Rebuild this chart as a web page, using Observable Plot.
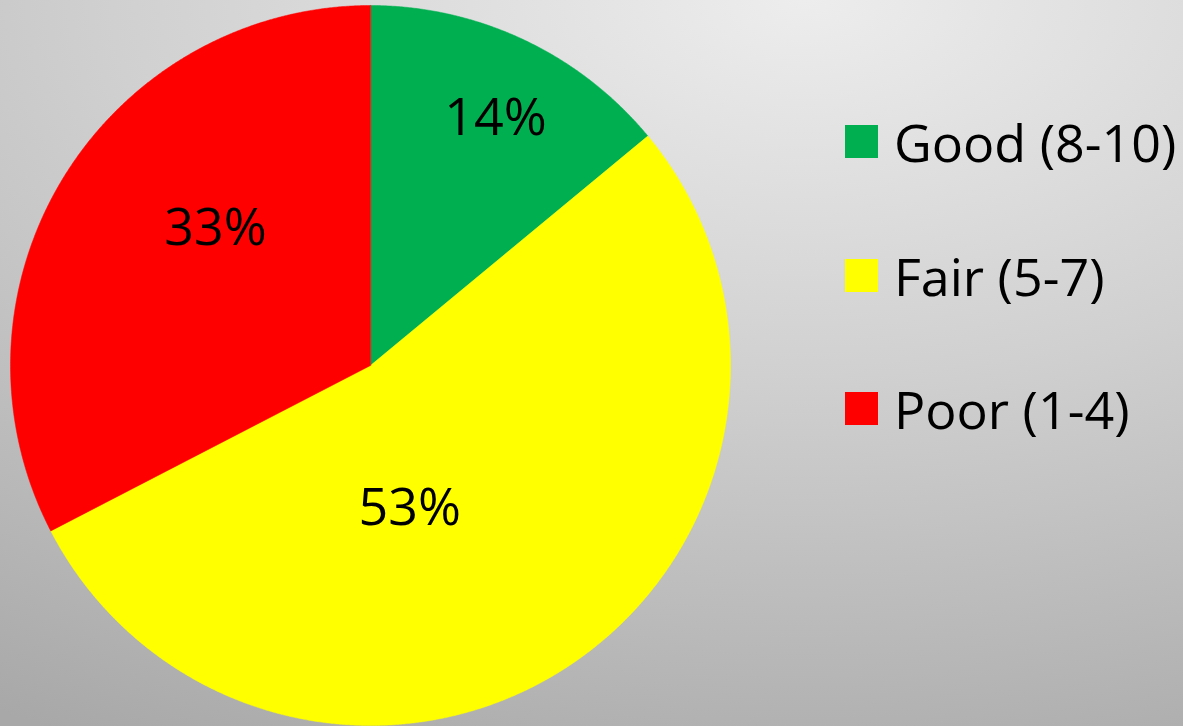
<!DOCTYPE html>
<html>
<head>
<meta charset="utf-8">
<script src="https://cdn.jsdelivr.net/npm/d3@7"></script>
<script src="https://cdn.jsdelivr.net/npm/@observablehq/plot@0.6"></script>
<style>
  html, body { margin: 0; padding: 0; overflow: hidden; }
  body { width: 1183px; height: 726px;
    background: radial-gradient(ellipse 130% 115% at 68% 0%, #ededed 0%, #d0d0d0 45%, #a8a8a8 100%); }
  #wrap { position: relative; width: 1183px; height: 726px; }
  #legend { position: absolute; left: 845px; top: 75px; }
  #legend .lg-swatches { display: flex; flex-direction: column; align-items: flex-start; }
  #legend .lg-swatch { height: 133.5px; margin: 0 !important; display: inline-flex; align-items: center; }
  #legend .lg-swatch > svg { margin-right: 16px !important; }
</style>
</head>
<body>
<div id="wrap"><div id="chart"></div><div id="legend"></div></div>
<script>
const categories = ["Good (8-10)", "Fair (5-7)", "Poor (1-4)"];
const values = [14.0, 53.4, 32.6];
const colors = ["#00b050", "#ffff00", "#ff0000"];
// label placement (angle in degrees clockwise from top, radius as fraction of pie radius)
const labelAngles = [26.8, 164.7, 311.5];
const labelRadii = [0.77, 0.412, 0.575];

const FONT = "'Open Sans', sans-serif";
const W = 1183, H = 726, CX = 370, CY = 365, R = 360;

const total = d3.sum(values);
const slices = [];
let acc = 0;
categories.forEach((c, i) => {
  const a0 = acc / total * 2 * Math.PI;
  acc += values[i];
  const a1 = acc / total * 2 * Math.PI;
  slices.push({category: c, a0, a1, value: values[i]});
});

const pts = [];
for (const s of slices) {
  pts.push({category: s.category, x: 0, y: 0});
  const n = Math.max(2, Math.ceil((s.a1 - s.a0) / (Math.PI / 720)));
  for (let k = 0; k <= n; k++) {
    const a = s.a0 + (s.a1 - s.a0) * k / n;
    pts.push({category: s.category, x: Math.sin(a), y: Math.cos(a)});
  }
}

const labels = slices.map((s, i) => {
  const a = labelAngles[i] * Math.PI / 180;
  return {text: Math.round(s.value / total * 100) + "%", x: labelRadii[i] * Math.sin(a), y: labelRadii[i] * Math.cos(a)};
});

const colorScale = {domain: categories, range: colors};

const chart = Plot.plot({
  width: W, height: H, margin: 0,
  style: {background: "transparent", overflow: "visible"},
  x: {domain: [-CX / R, (W - CX) / R], range: [0, W], axis: null},
  y: {domain: [-(H - CY) / R, CY / R], range: [H, 0], axis: null},
  color: colorScale,
  marks: [
    Plot.line(pts, {x: "x", y: "y", z: "category", fill: "category", stroke: "category", strokeWidth: 0.5, curve: "linear-closed"}),
    Plot.text(labels, {x: "x", y: "y", text: "text", fontSize: 52, fontFamily: FONT, fill: "black", textAnchor: "middle", lineAnchor: "middle"})
  ]
});
document.getElementById("chart").appendChild(chart);

const legend = Plot.legend({
  color: colorScale,
  swatchSize: 33,
  className: "lg",
  style: {fontSize: "52px", fontFamily: FONT, color: "black", background: "transparent"}
});
document.getElementById("legend").appendChild(legend);
</script>
</body>
</html>
